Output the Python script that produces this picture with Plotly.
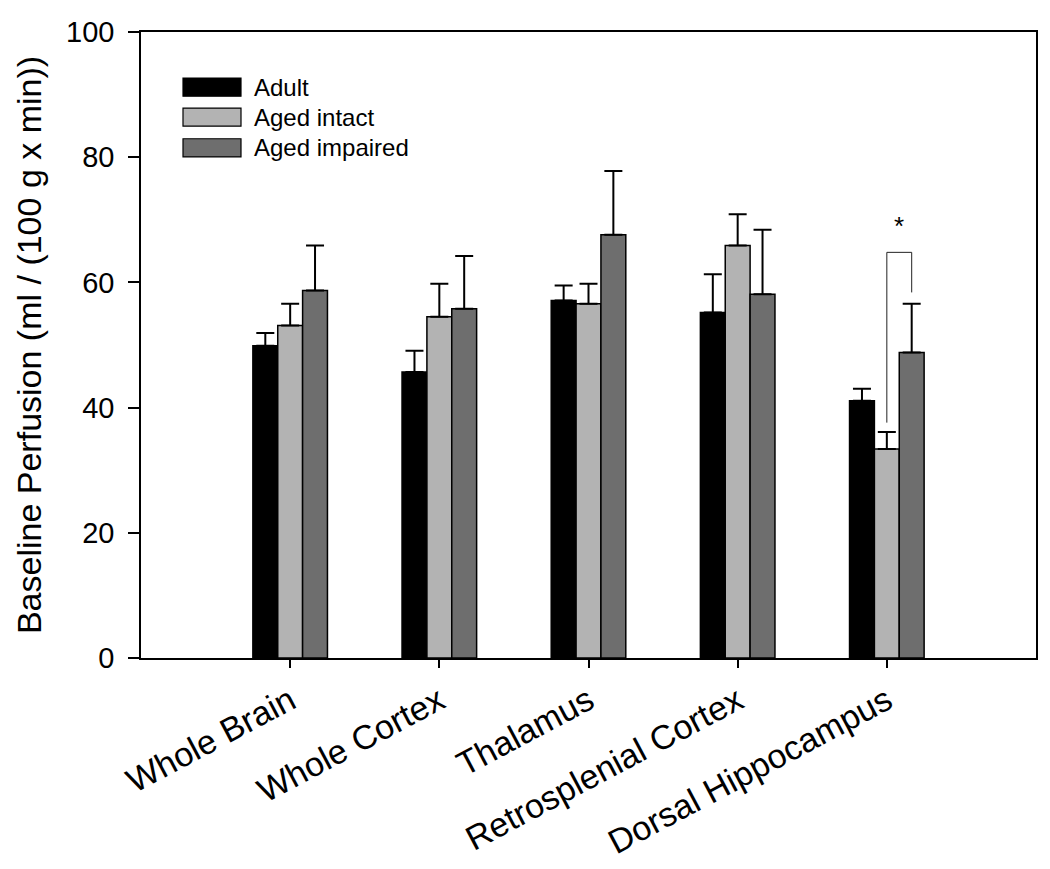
import plotly.graph_objects as go

categories = ["Whole Brain", "Whole Cortex", "Thalamus", "Retrosplenial Cortex", "Dorsal Hippocampus"]
series_names = ["Adult", "Aged intact", "Aged impaired"]
adult = [49.9, 45.7, 57.1, 55.2, 41.1]
adult_err = [2.0, 3.4, 2.4, 6.1, 1.9]
aged_intact = [53.1, 54.5, 56.6, 65.9, 33.4]
aged_intact_err = [3.5, 5.3, 3.2, 5.0, 2.7]
aged_impaired = [58.7, 55.8, 67.6, 58.1, 48.8]
aged_impaired_err = [7.2, 8.4, 10.2, 10.3, 7.8]
y_ticks = [0, 20, 40, 60, 80, 100]

colors = ["#000000", "#b3b3b3", "#6e6e6e"]
values = [adult, aged_intact, aged_impaired]
errors = [adult_err, aged_intact_err, aged_impaired_err]

font = "Liberation Sans, Arial, sans-serif"
fig = go.Figure()
for name, vals, errs, col in zip(series_names, values, errors, colors):
    fig.add_trace(go.Bar(
        x=categories, y=vals, name=name,
        marker=dict(color=col, line=dict(color="#000000", width=1.5)),
        error_y=dict(type="data", symmetric=False, array=errs,
                     arrayminus=[0] * len(errs), color="#000000",
                     thickness=2, width=9),
        showlegend=False,
    ))

# Significance bracket (Dorsal Hippocampus: Aged intact vs Aged impaired)
bw = 0.5 / 3
bx0 = 4
bx1 = 4 + bw
fig.add_shape(type="line", x0=bx0, x1=bx0, y0=37.6, y1=64.8, xref="x", yref="y",
              line=dict(color="#222222", width=1))
fig.add_shape(type="line", x0=bx0, x1=bx1, y0=64.8, y1=64.8, xref="x", yref="y",
              line=dict(color="#222222", width=1))
fig.add_shape(type="line", x0=bx1, x1=bx1, y0=64.8, y1=58.4, xref="x", yref="y",
              line=dict(color="#222222", width=1))
fig.add_annotation(x=(bx0 + bx1) / 2, y=69.0, xref="x", yref="y", text="*",
                   showarrow=False, font=dict(size=26, color="#000000", family=font))

# Legend drawn manually
leg_y = [91.2, 86.4, 81.5]
for name, col, yy in zip(series_names, colors, leg_y):
    fig.add_shape(type="rect", xref="paper", yref="y",
                  x0=(183 - 141) / 895, x1=(241 - 141) / 895,
                  y0=yy - 1.45, y1=yy + 1.45,
                  fillcolor=col, line=dict(color="#000000", width=1.2))
    fig.add_annotation(xref="paper", yref="y", x=(252 - 141) / 895, y=yy,
                       text=name, showarrow=False, xanchor="left", yanchor="middle",
                       font=dict(size=24, color="#000000", family=font))

fig.update_layout(
    width=1050, height=869,
    barmode="group", bargap=0.5, bargroupgap=0,
    plot_bgcolor="#ffffff", paper_bgcolor="#ffffff",
    margin=dict(l=133, r=22, t=24, b=219, autoexpand=False),
    font=dict(family=font, color="#000000"),
    xaxis=dict(
        range=[-1, 5], showline=True, linecolor="#000000", linewidth=1.5,
        mirror=True, ticks="outside", ticklen=8, tickwidth=1.5, tickcolor="#000000",
        tickangle=-28, tickfont=dict(size=34, family=font, color="#000000"),
        showgrid=False, zeroline=False,
    ),
    yaxis=dict(
        range=[0, 100], tickvals=y_ticks, showline=True, linecolor="#000000",
        linewidth=1.5, mirror=True, ticks="outside", ticklen=11, tickwidth=1.5,
        tickcolor="#000000", tickfont=dict(size=29, family=font, color="#000000"),
        ticklabelstandoff=8,
        showgrid=False, zeroline=False,
        title=dict(text="Baseline Perfusion (ml / (100 g x min))",
                   font=dict(size=34, family=font, color="#000000"), standoff=14),
    ),
)

fig.write_html("out.html")
